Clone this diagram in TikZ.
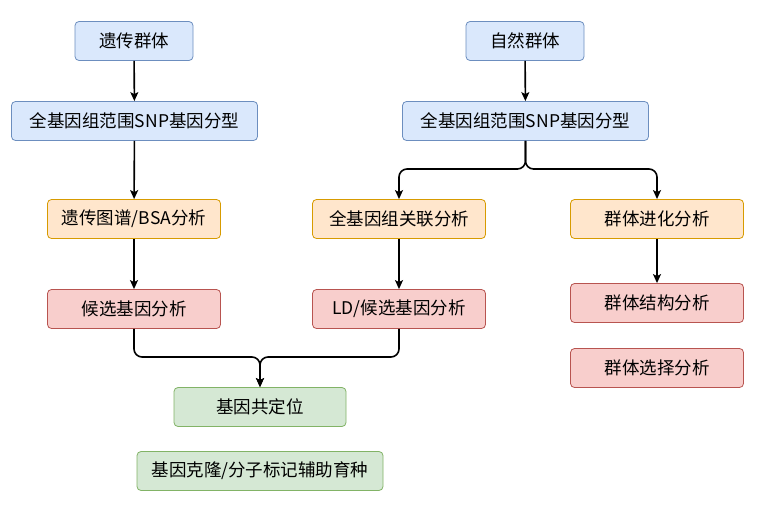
\documentclass[tikz,border=0pt]{standalone}
\usepackage{fontspec}
\setmainfont{Noto Sans CJK SC}
\usetikzlibrary{arrows.meta}
\definecolor{bfill}{HTML}{DAE8FC}\definecolor{bdraw}{HTML}{6C8EBF}
\definecolor{ofill}{HTML}{FFE6CC}\definecolor{odraw}{HTML}{D79B00}
\definecolor{rfill}{HTML}{F8CECC}\definecolor{rdraw}{HTML}{B85450}
\definecolor{gfill}{HTML}{D5E8D4}\definecolor{gdraw}{HTML}{82B366}
\tikzset{
  box/.style={draw, rounded corners=4pt, line width=0.8pt, minimum height=39pt, inner sep=0pt, font=\fontsize{17.5}{20}\selectfont, text=black},
  bluebox/.style={box, fill=bfill, draw=bdraw},
  orabox/.style={box, fill=ofill, draw=odraw},
  redbox/.style={box, fill=rfill, draw=rdraw},
  grnbox/.style={box, fill=gfill, draw=gdraw},
  conn/.style={draw=black, line width=1.6pt, rounded corners=8pt, -{Stealth[length=9pt,width=8pt,inset=2pt]}}
}
\begin{document}
\begin{tikzpicture}[x=1pt,y=-1pt]
\useasboundingbox (0,0) rectangle (770,514);
\node[bluebox, minimum width=118pt] (yc) at (134,41) {遗传群体};
\node[bluebox, minimum width=118pt] (zr) at (525,41) {自然群体};
\node[bluebox, minimum width=246pt] (snpL) at (134.5,121) {全基因组范围SNP基因分型};
\node[bluebox, minimum width=246pt] (snpR) at (525.5,121) {全基因组范围SNP基因分型};
\node[orabox, minimum width=173pt] (bsa) at (134,219) {遗传图谱/BSA分析};
\node[orabox, minimum width=173pt] (gwas) at (399,219) {全基因组关联分析};
\node[orabox, minimum width=173pt] (jh) at (657,219) {群体进化分析};
\node[redbox, minimum width=173pt] (hx) at (134,309) {候选基因分析};
\node[redbox, minimum width=173pt] (ld) at (399,309) {LD/候选基因分析};
\node[redbox, minimum width=173pt] (jg) at (657,303) {群体结构分析};
\node[redbox, minimum width=173pt] (xz) at (657,368) {群体选择分析};
\node[grnbox, minimum width=172pt] (gdw) at (260,407) {基因共定位};
\node[grnbox, minimum width=246pt] (kl) at (260,471) {基因克隆/分子标记辅助育种};
\coordinate (br) at (525.5,169);
\coordinate (mg) at (260,357);
\draw[conn] (yc) -- (snpL);
\draw[conn] (zr) -- (snpR);
\draw[conn] (snpL) -- (bsa);
\draw[conn] (snpR.south) -- (br) -| (gwas.north);
\draw[conn] (snpR.south) -- (br) -| (jh.north);
\draw[conn] (bsa) -- (hx);
\draw[conn] (gwas) -- (ld);
\draw[conn] (jh) -- (jg);
\draw[conn] (hx.south) |- (mg) -- (gdw.north);
\draw[conn] (ld.south) |- (mg) -- (gdw.north);
\end{tikzpicture}
\end{document}
